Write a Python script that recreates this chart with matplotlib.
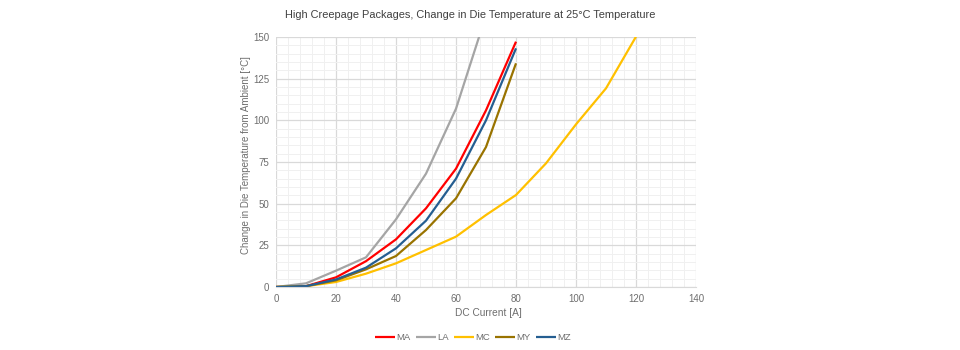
import numpy as np
import matplotlib.pyplot as plt
from matplotlib.ticker import MultipleLocator

plt.rcParams['font.family'] = ['Liberation Sans', 'DejaVu Sans']

current = [0, 10, 20, 30, 40, 50, 60, 70, 80]
current_mc = [0, 10, 20, 30, 40, 50, 60, 70, 80, 90, 100, 110, 120]

ma = [0, 0.5, 5.8, 15.5, 28.6, 47.2, 71, 106, 147.2]
la = [0, 2.2, 9.8, 17.8, 40.6, 68, 107, 163]
mc = [0, 0.5, 3, 8, 14.2, 22.2, 30.2, 43.2, 55.2, 74.2, 97.6, 119.2, 150.2]
my = [0, 0.5, 4, 10.6, 18.6, 34.2, 53.2, 84, 134.2]
mz = [0, 0.5, 4.5, 11.6, 23.2, 39.8, 65, 100, 143.2]

series = [
    ("MA", current, ma, "#FF0000"),
    ("LA", current[:len(la)], la, "#A5A5A5"),
    ("MC", current_mc, mc, "#FFC000"),
    ("MY", current, my, "#997300"),
    ("MZ", current, mz, "#255E91"),
]

txt = '#6E6E6E'

fig = plt.figure(figsize=(9.6, 3.5), dpi=100)
ax = fig.add_axes([276 / 960, 1 - 287 / 350, 420 / 960, 250 / 350])

for name, x, y, c in series:
    ax.plot(x, y, color=c, lw=1.6, label=name, solid_capstyle='butt')

ax.set_xlim(0, 140)
ax.set_ylim(0, 150)
ax.xaxis.set_major_locator(MultipleLocator(20))
ax.xaxis.set_minor_locator(MultipleLocator(4))
ax.yaxis.set_major_locator(MultipleLocator(25))
ax.yaxis.set_minor_locator(MultipleLocator(5))
ax.grid(which='major', color='#D9D9D9', lw=0.9)
ax.grid(which='minor', color='#F0F0F0', lw=0.7)
ax.set_axisbelow(True)
for s in ax.spines.values():
    s.set_visible(False)
ax.spines['bottom'].set_visible(True)
ax.spines['bottom'].set_color('#D9D9D9')
ax.tick_params(which='both', length=0, labelsize=7, colors=txt, pad=5)

ax.set_xlabel("DC Current [A]", fontsize=7.3, color=txt)
ax.xaxis.set_label_coords((488 - 276) / 420, -(308 - 287) / 250)
ax.set_ylabel("Change in Die Temperature from Ambient [°C]", fontsize=7, color=txt)
ax.yaxis.set_label_coords(-(276 - 251) / 420, (287 - 155) / 250)

fig.text(470 / 960, 1 - 15 / 350, "High Creepage Packages, Change in Die Temperature at 25°C Temperature",
         ha='center', va='center', fontsize=7.9, color='#404040')

fig.legend(loc='center', bbox_to_anchor=(473 / 960, 1 - 338 / 350), ncol=5, frameon=False,
           fontsize=6.8, labelcolor=txt, handlelength=2.1, handletextpad=0.1, columnspacing=0.6)

fig.savefig("out.png", dpi=100)
